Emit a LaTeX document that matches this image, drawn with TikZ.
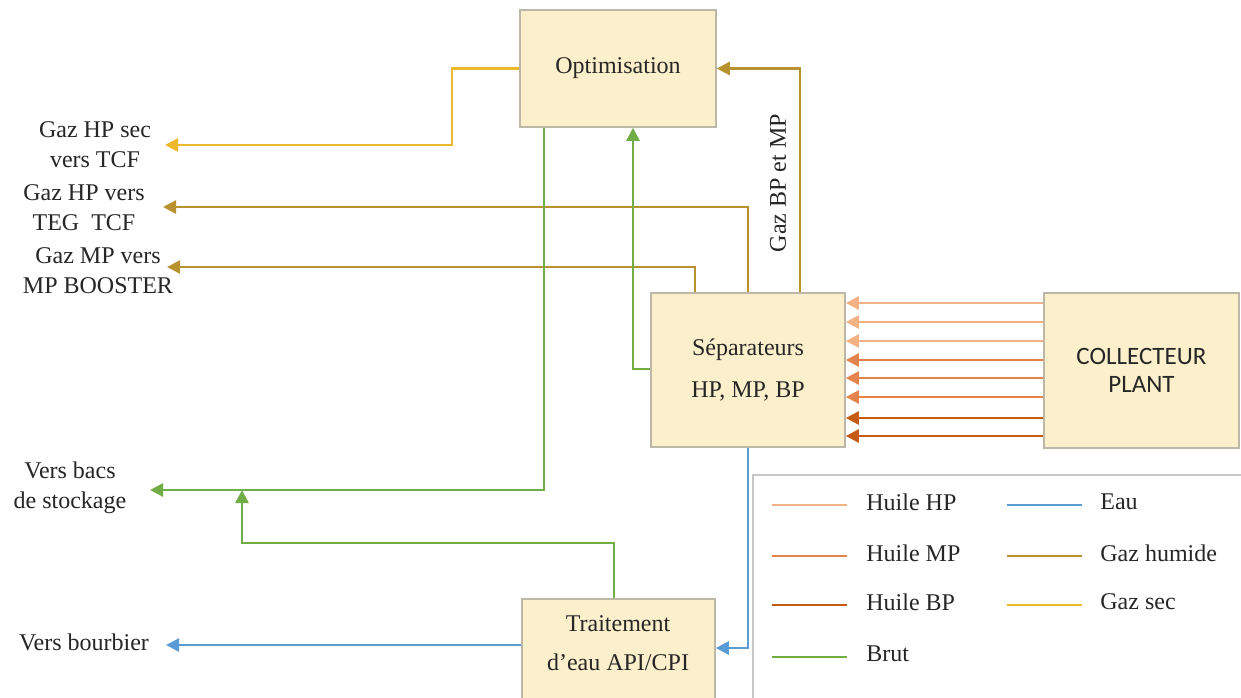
\documentclass[tikz,border=0pt]{standalone}
\usepackage{fontspec}
\setmainfont{Liberation Serif}
\newfontfamily\calibri{Carlito}
\usetikzlibrary{arrows.meta}
\definecolor{boxfill}{HTML}{FCEFCB}
\definecolor{boxline}{HTML}{BDB7A8}
\definecolor{gsec}{HTML}{EDB82C}
\definecolor{ghum}{HTML}{B8922E}
\definecolor{brut}{HTML}{70AD47}
\definecolor{eau}{HTML}{5B9BD5}
\definecolor{hhp}{HTML}{F4B183}
\definecolor{hmp}{HTML}{E2844B}
\definecolor{hbp}{HTML}{C55A11}
\definecolor{txt}{HTML}{262626}
\begin{document}
\begin{tikzpicture}[x=0.5pt,y=-0.5pt,
  font=\fontsize{12}{15}\selectfont, text=txt,
  box/.style={draw=boxline, line width=0.8pt, fill=boxfill, inner sep=0pt},
  flow/.style={line width=1.3pt},
  arr/.style={flow, -{Triangle[length=6.5pt,width=6.5pt]}},
  lab/.style={align=center, inner sep=0pt},
  legline/.style={line width=1.3pt}
]
\useasboundingbox (0,0) rectangle (1241,697);
\clip (0,0) rectangle (1241,697);
\fill[white] (0,0) rectangle (1241,697);

% boxes
\node[box, minimum width=98pt, minimum height=58.5pt] (opt) at (618,68.5) {Optimisation};
\node[box, minimum width=97pt, minimum height=77pt, align=center,
      font=\fontsize{12}{21}\selectfont] (sep) at (748,370) {Séparateurs\\HP, MP, BP};
\node[box, minimum width=97.5pt, minimum height=77.5pt, align=center,
      font=\calibri\fontsize{12.5}{14}\selectfont] (coll) at (1141.5,370.5) {COLLECTEUR\\PLANT};
\node[box, minimum width=96.5pt, minimum height=70.5pt] (trait) at (618.5,669.5) {};
\node[lab, font=\fontsize{12}{19.5}\selectfont] (traittxt) at (618,643) {Traitement\\d'eau API/CPI};

% left labels
\node[lab] (l1) at (95,145) {Gaz HP sec\\vers TCF};
\node[lab] (l2) at (84,208) {Gaz HP vers\\TEG\ \ TCF};
\node[lab] (l3) at (98,271) {Gaz MP vers\\MP BOOSTER};
\node[lab] (l4) at (70,488) {Vers bacs\\de stockage};
\node[lab] (l5) at (84,642) {Vers bourbier};
\node[lab, rotate=90] (lgbp) at (778,183) {Gaz BP et MP};

% free ends
\coordinate (t1) at (165,145);
\coordinate (t2) at (163,207);
\coordinate (t3) at (167,267);
\coordinate (t4) at (150,490);
\coordinate (t5) at (242,490);
\coordinate (t6) at (166,645);

% collector arrows
\foreach \yy/\cc in {303/hhp,322/hhp,341/hhp,360/hmp,378/hmp,397/hmp,418/hbp,436/hbp}
  \draw[arr, draw=\cc, fill=\cc] (coll.west |- 0,\yy) -- (sep.east |- 0,\yy);

% dry gas
\draw[arr, gsec] (opt.west) -| (452,145) -- (t1);
% wet gas
\draw[arr, ghum] (sep.north -| 800,0) |- (opt.east);
\draw[arr, ghum] (sep.north) |- (t2);
\draw[arr, ghum] (sep.north -| 695,0) |- (t3);
% crude
\draw[arr, brut] (opt.south -| 544,0) |- (t4);
\draw[arr, brut] (sep.west |- 0,369) -| (opt.south -| 633,0);
\draw[arr, brut] (trait.north -| 614,0) |- (242,543) -- (t5);
% water
\draw[arr, eau] (sep.south) |- (trait.east |- 0,648);
\draw[arr, eau] (trait.west |- 0,645) -- (t6);

% legend
\draw[draw=black!22, line width=0.8pt] (753,475) rectangle (1260,720);
\draw[legline, hhp] (772,505) -- (847,505);
\node[anchor=west, inner sep=0pt] (lg1) at (866,502) {Huile HP};
\draw[legline, hmp] (772,556) -- (847,556);
\node[anchor=west, inner sep=0pt] (lg2) at (866,553) {Huile MP};
\draw[legline, hbp] (772,605) -- (847,605);
\node[anchor=west, inner sep=0pt] (lg3) at (866,602) {Huile BP};
\draw[legline, brut] (772,657) -- (847,657);
\node[anchor=west, inner sep=0pt] (lg4) at (866,654) {Brut};
\draw[legline, eau] (1007,505) -- (1082,505);
\node[anchor=west, inner sep=0pt] (lg5) at (1100,502) {Eau};
\draw[legline, ghum] (1007,556) -- (1082,556);
\node[anchor=west, inner sep=0pt] (lg6) at (1100,553) {Gaz humide};
\draw[legline, gsec] (1007,605) -- (1082,605);
\node[anchor=west, inner sep=0pt] (lg7) at (1100,602) {Gaz sec};
\end{tikzpicture}
\end{document}
